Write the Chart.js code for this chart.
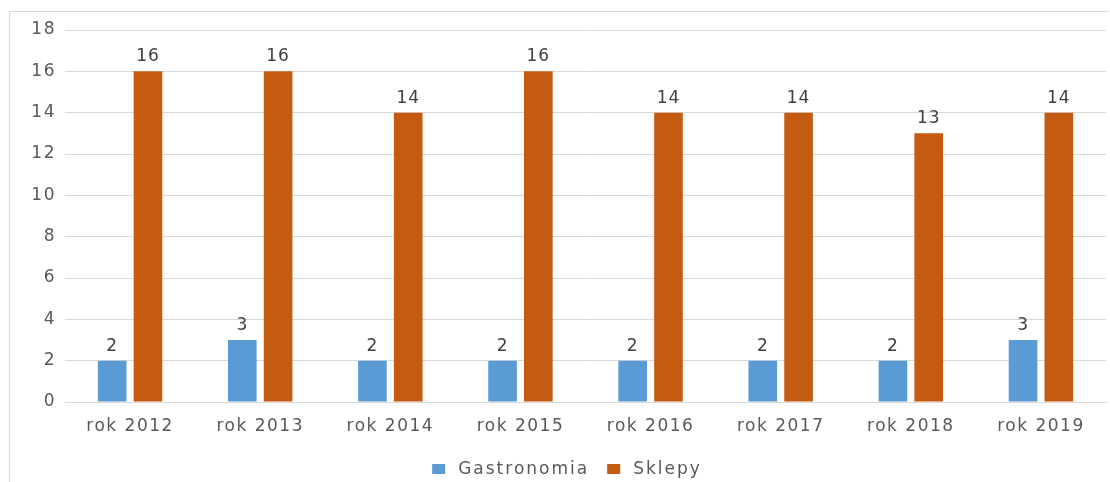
<!DOCTYPE html>
<html>
<head>
<meta charset="utf-8">
<script src="https://cdn.jsdelivr.net/npm/chart.js@4.4.1/dist/chart.umd.min.js"></script>
<style>
  html, body { margin: 0; padding: 0; background: #fff; }
  #wrap { position: relative; width: 1110px; height: 482px; }
  #frame { position: absolute; left: 9px; top: 11px; width: 1099px; height: 480px;
           border-left: 1px solid #d9d9d9; border-top: 1px solid #d9d9d9; }
  canvas { position: absolute; left: 0; top: 0; }
</style>
</head>
<body>
<div id="wrap">
  <div id="frame"></div>
  <canvas id="c" width="1110" height="482"></canvas>
</div>
<script>
const categories = ['rok 2012', 'rok 2013', 'rok 2014', 'rok 2015', 'rok 2016', 'rok 2017', 'rok 2018', 'rok 2019'];
const gastronomia = [2, 3, 2, 2, 2, 2, 2, 3];
const sklepy = [16, 16, 14, 16, 14, 14, 13, 14];
const yTicks = [0, 2, 4, 6, 8, 10, 12, 14, 16, 18];

const FONT = 'DejaVu Sans';
const SPACING = '1.5px';

const spacingPlugin = {
  id: 'spacing',
  beforeUpdate(chart) { chart.ctx.letterSpacing = SPACING; },
  beforeDraw(chart) { chart.ctx.letterSpacing = SPACING; }
};

const labelPlugin = {
  id: 'dataLabels',
  afterDatasetsDraw(chart) {
    const ctx = chart.ctx;
    ctx.save();
    ctx.letterSpacing = '1px';
    ctx.font = '17px "' + FONT + '"';
    ctx.fillStyle = '#404040';
    ctx.textAlign = 'center';
    ctx.textBaseline = 'alphabetic';
    chart.data.datasets.forEach((ds, i) => {
      const meta = chart.getDatasetMeta(i);
      meta.data.forEach((bar, j) => {
        ctx.fillText(String(ds.data[j]), bar.x, bar.y - 10);
      });
    });
    ctx.restore();
  }
};

// legend drawn below the axis from the dataset labels/colours
const legendPlugin = {
  id: 'bottomLegend',
  afterDraw(chart) {
    const ctx = chart.ctx;
    ctx.save();
    ctx.letterSpacing = '2px';
    ctx.font = '17px "' + FONT + '"';
    ctx.textBaseline = 'middle';
    ctx.textAlign = 'left';
    const boxW = 13, boxH = 10, gap = 13, itemGap = 18;
    const items = chart.data.datasets.map(ds => ({ text: ds.label, color: ds.backgroundColor, w: ctx.measureText(ds.label).width }));
    const total = items.reduce((s, it) => s + boxW + gap + it.w, 0) + itemGap * (items.length - 1);
    const cx = 567, cy = 469;
    let x = cx - total / 2;
    items.forEach(it => {
      ctx.fillStyle = it.color;
      ctx.fillRect(x, cy - boxH / 2, boxW, boxH);
      x += boxW + gap;
      ctx.fillStyle = '#595959';
      ctx.fillText(it.text, x, cy + 1);
      x += it.w + itemGap;
    });
    ctx.restore();
  }
};

new Chart(document.getElementById('c'), {
  type: 'bar',
  data: {
    labels: categories,
    datasets: [
      { label: 'Gastronomia', data: gastronomia, backgroundColor: '#5B9BD5',
        categoryPercentage: 0.55, barPercentage: 0.8 },
      { label: 'Sklepy', data: sklepy, backgroundColor: '#C55A11',
        categoryPercentage: 0.55, barPercentage: 0.8 }
    ]
  },
  options: {
    responsive: false,
    animation: false,
    devicePixelRatio: 1,
    layout: { padding: { left: 0, right: 4, top: 30, bottom: 30 } },
    plugins: {
      tooltip: { enabled: false },
      legend: { display: false }
    },
    scales: {
      x: {
        grid: { display: false, drawTicks: false },
        border: { display: true, color: '#d9d9d9', width: 1 },
        ticks: { color: '#595959', font: { family: FONT, size: 17 }, padding: 14, maxRotation: 0 },
        afterFit(s) { s.height = 50; }
      },
      y: {
        min: 0, max: 18,
        afterBuildTicks(s) { s.ticks = yTicks.map(v => ({ value: v })); },
        grid: { color: '#d9d9d9', lineWidth: 1, drawTicks: false },
        border: { display: false },
        ticks: { color: '#595959', font: { family: FONT, size: 17 }, padding: 9 },
        afterFit(s) { s.width = 65; }
      }
    }
  },
  plugins: [spacingPlugin, labelPlugin, legendPlugin]
});
</script>
</body>
</html>
